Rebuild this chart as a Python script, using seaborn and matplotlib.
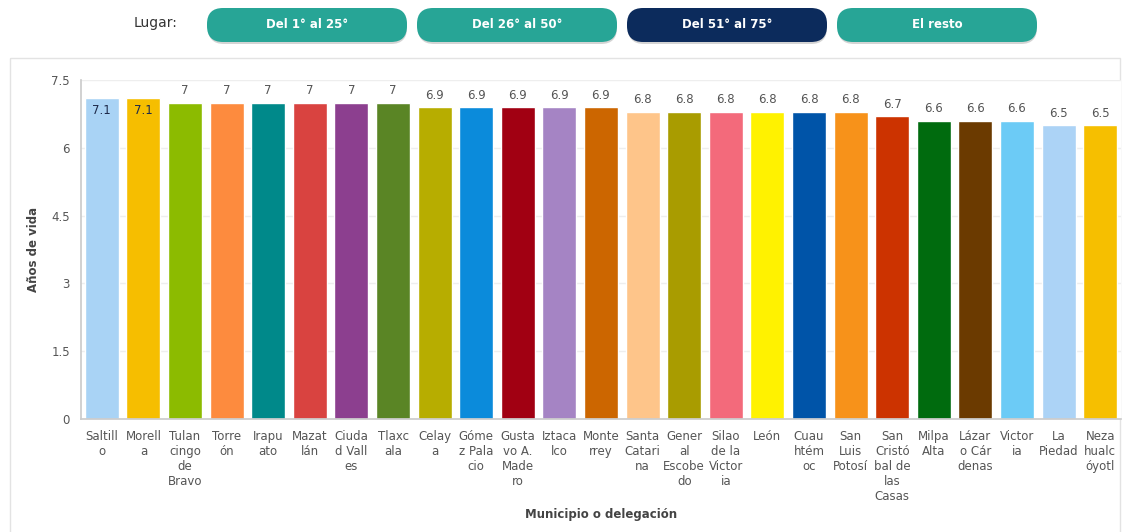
import matplotlib
matplotlib.use("Agg")
import matplotlib.pyplot as plt
from matplotlib.patches import FancyBboxPatch, Rectangle
import seaborn as sns
import pandas as pd

categories = ["Saltillo", "Morelia", "Tulancingo de Bravo", "Torreón", "Irapuato",
              "Mazatlán", "Ciudad Valles", "Tlaxcala", "Celaya", "Gómez Palacio",
              "Gustavo A. Madero", "Iztacalco", "Monterrey", "Santa Catarina",
              "General Escobedo", "Silao de la Victoria", "León", "Cuauhtémoc",
              "San Luis Potosí", "San Cristóbal de las Casas", "Milpa Alta",
              "Lázaro Cárdenas", "Victoria", "La Piedad", "Nezahualcóyotl"]
values = [7.1, 7.1, 7, 7, 7, 7, 7, 7, 6.9, 6.9, 6.9, 6.9, 6.9, 6.8, 6.8, 6.8,
          6.8, 6.8, 6.8, 6.7, 6.6, 6.6, 6.6, 6.5, 6.5]
tick_labels = ["Saltill\no", "Morell\na", "Tulan\ncingo\nde\nBravo", "Torre\nón",
               "Irapu\nato", "Mazat\nlán", "Ciuda\nd Vall\nes", "Tlaxc\nala",
               "Celay\na", "Góme\nz Pala\ncio", "Gusta\nvo A.\nMade\nro",
               "Iztaca\nlco", "Monte\nrrey", "Santa\nCatari\nna",
               "Gener\nal\nEscobe\ndo", "Silao\nde la\nVictor\nia", "León",
               "Cuau\nhtém\noc", "San\nLuis\nPotosí", "San\nCristó\nbal de\nlas\nCasas",
               "Milpa\nAlta", "Lázar\no Cár\ndenas", "Victor\nia", "La\nPiedad",
               "Neza\nhualc\nóyotl"]
colors = ["#a9d3f5", "#f6be00", "#8cbb00", "#fd8b3e", "#00898a", "#d94340",
          "#8c3f8f", "#5a8525", "#b7ad00", "#0b8bdb", "#a10012", "#a584c4",
          "#cc6600", "#fec58a", "#a99c00", "#f36a7b", "#fff200", "#0054a8",
          "#f7921a", "#cc3300", "#006b0e", "#6b3a00", "#6ccbf6", "#acd3f6",
          "#f6bf00"]
buttons = ["Del 1° al 25°", "Del 26° al 50°", "Del 51° al 75°", "El resto"]
yticks = [0, 1.5, 3, 4.5, 6, 7.5]

df = pd.DataFrame({"cat": categories, "val": values})

sns.set_theme(style="white")
plt.rcParams["font.family"] = ["DejaVu Sans"]

W, H = 1127, 532
fig = plt.figure(figsize=(W / 100, H / 100), dpi=100)
fig.patch.set_facecolor("white")

# overlay in pixel coordinates for page decoration
ov = fig.add_axes([0, 0, 1, 1])
ov.set_xlim(0, W)
ov.set_ylim(H, 0)
ov.axis("off")
ov.add_patch(Rectangle((10, 58), 1110, 480, fill=False, edgecolor="#e3e3e3", linewidth=1))
bx = [207, 417, 627, 837]
for i, (x0, lab) in enumerate(zip(bx, buttons)):
    fc = "#0c2b5c" if i == 2 else "#27a596"
    ov.add_patch(FancyBboxPatch((x0 + 1, 10), 199, 34,
                                boxstyle="round,pad=0,rounding_size=16",
                                facecolor="#d4d4d4", edgecolor="none"))
    ov.add_patch(FancyBboxPatch((x0, 8), 200, 34,
                                boxstyle="round,pad=0,rounding_size=16",
                                facecolor=fc, edgecolor="none"))
    ov.text(x0 + 100, 25, lab, color="white", fontsize=8.5, fontweight="bold",
            ha="center", va="center")
ov.text(156, 23, "Lugar:", color="#333333", fontsize=10, ha="center", va="center")

ax = fig.add_axes([81 / W, 1 - 419 / H, (1121 - 81) / W, (419 - 80) / H])
sns.barplot(data=df, x="cat", y="val", hue="cat", palette=colors, legend=False,
            width=0.82, ax=ax, saturation=1)

ax.set_ylim(0, 7.5)
ax.set_xlim(-0.5, len(categories) - 0.5)
ax.set_yticks(yticks)
ax.set_yticklabels(["0", "1.5", "3", "4.5", "6", "7.5"], fontsize=8.5, color="#555555")
ax.set_xticks(range(len(categories)))
ax.set_xticklabels(tick_labels, fontsize=8.5, color="#555555", linespacing=1.2, va="top")
ax.tick_params(axis="x", length=0, pad=8)
ax.tick_params(axis="y", length=0, pad=8)
ax.yaxis.grid(True, color="#eeeeee", linewidth=1)
ax.set_axisbelow(True)
for s in ["top", "right"]:
    ax.spines[s].set_visible(False)
ax.spines["left"].set_color("#cccccc")
ax.spines["bottom"].set_color("#cccccc")
ax.set_ylabel("Años de vida", fontsize=8.5, fontweight="bold", color="#444444")
ax.yaxis.set_label_coords((40 - 81) / (1121 - 81), 0.5)
ax.set_xlabel("Municipio o delegación", fontsize=8.5, fontweight="bold", color="#444444")
ax.xaxis.set_label_coords(0.5, (419 - 508) / (419 - 80))

for i, v in enumerate(values):
    txt = f"{v:g}"
    if v >= 7.05:
        ax.text(i, v - 0.13, txt, ha="center", va="top", fontsize=8.5, color="#1e2a4a")
    else:
        ax.text(i, v + 0.12, txt, ha="center", va="bottom", fontsize=8.5, color="#555555")

fig.savefig("out.png", dpi=100)
